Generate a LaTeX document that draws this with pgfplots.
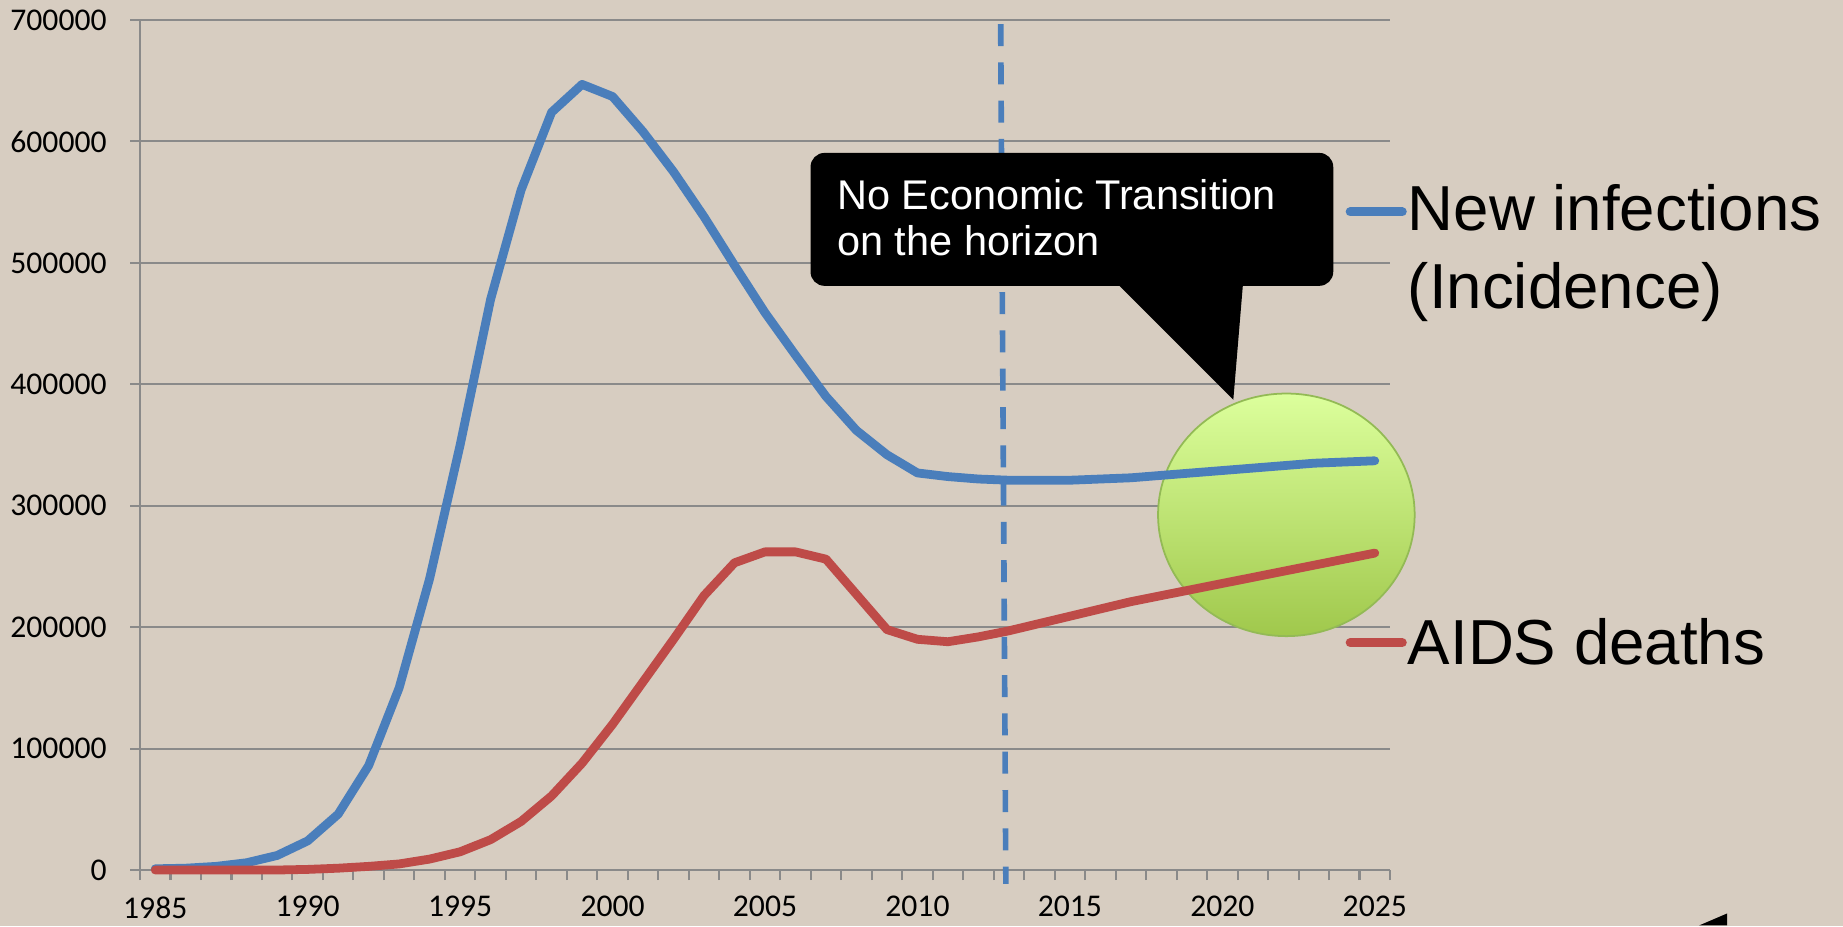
\documentclass[border=0pt]{standalone}
\usepackage{fontspec}
\setmainfont{Liberation Sans}
\newfontfamily\carlito{Carlito}
\usepackage{pgfplots}
\pgfplotsset{compat=1.18}
\definecolor{bgtan}{HTML}{D7CDC1}
\definecolor{gridgray}{HTML}{8A8A8A}
\definecolor{incblue}{HTML}{4A7EBB}
\definecolor{deathred}{HTML}{BE4B48}
\definecolor{ballTop}{HTML}{DCFF9C}
\definecolor{ballBot}{HTML}{A0C84C}
\definecolor{ballEdge}{HTML}{93BA55}

% new infections (incidence), one value per year 1985-2025
\pgfplotstableread{
year inc
1985 1000
1986 1500
1987 3000
1988 6000
1989 12000
1990 24000
1991 46000
1992 86000
1993 150000
1994 240000
1995 350000
1996 470000
1997 560000
1998 624000
1999 647000
2000 637000
2001 608000
2002 575000
2003 538000
2004 498000
2005 459000
2006 424000
2007 390000
2008 362000
2009 342000
2010 327000
2011 324000
2012 322000
2013 321000
2014 321000
2015 321000
2016 322000
2017 323000
2018 325000
2019 327000
2020 329000
2021 331000
2022 333000
2023 335000
2024 336000
2025 337000
}\incidence

% AIDS deaths
\pgfplotstableread{
year deaths
1985 0
1986 0
1987 0
1988 0
1989 0
1990 500
1991 1500
1992 3000
1993 5000
1994 9000
1995 15000
1996 25000
1997 40000
1998 61000
1999 88000
2000 120000
2001 155000
2002 190000
2003 226000
2004 253000
2005 262000
2006 262000
2007 256000
2008 227000
2009 198000
2010 190000
2011 188000
2012 192000
2013 197000
2014 203000
2015 209000
2016 215000
2017 221000
2018 226000
2019 231000
2020 236000
2021 241000
2022 246000
2023 251000
2024 256000
2025 261000
}\deaths

\begin{document}
\begin{tikzpicture}
\useasboundingbox (0,0) rectangle (18.43,9.26);
\fill[bgtan] (0,0) rectangle (18.43,9.26);

\begin{axis}[
  at={(1.40cm,0.56cm)}, anchor=south west,
  scale only axis, width=12.50cm, height=8.50cm,
  xmin=1984.5, xmax=2025.5, ymin=0, ymax=700000,
  clip=false,
  axis x line*=bottom, axis y line*=left,
  axis line style={draw=gridgray, line width=0.6pt},
  xtick={1985,1990,...,2025},
  minor xtick={1984.5,1985.5,...,2025.5},
  ytick={0,100000,...,700000},
  ymajorgrids,
  major grid style={draw=gridgray, line width=0.6pt},
  tick align=outside,
  major tick length=0.1cm, minor tick length=0.1cm,
  tick style={draw=gridgray, line width=0.6pt},
  major x tick style={draw=none},
  scaled y ticks=false,
  ticklabel style={font=\carlito\fontsize{9}{10}\selectfont},
  y tick label style={xshift=-0.11cm},
  x tick label style={yshift=-0.04cm},
  /pgf/number format/fixed,
  /pgf/number format/1000 sep={},
  /pgf/number format/assume math mode=true,
]
% highlight ball behind the curves
\fill[top color=ballTop, bottom color=ballBot, draw=ballEdge, line width=0.5pt]
  (axis cs:2022.1,292500) ellipse [x radius=1.283cm, y radius=1.213cm];

\addplot[incblue, line width=2.5pt, line cap=round, line join=round] table[x=year, y=inc] {\incidence};
\addplot[deathred, line width=2.5pt, line cap=round, line join=round] table[x=year, y=deaths] {\deaths};

% "today" marker
\draw[incblue, line width=1.6pt, dash pattern=on 0.22cm off 0.163cm]
  (axis cs:2012.73,696700) -- (axis cs:2012.90,-11500);
\end{axis}

% annotations in pixel units of the reference, origin top left
\begin{scope}[shift={(0,9.26)}, x=0.01cm, y=-0.01cm]
  \fill[black, rounded corners=0.14cm] (811,153) rectangle (1334,286);
  \fill[black] (1114,280) -- (1234,400) -- (1244,280) -- cycle;
  \node[anchor=base west, inner sep=0, text=white, font=\fontsize{11.8}{13}\selectfont]
    at (837,210) {No Economic Transition};
  \node[anchor=base west, inner sep=0, text=white, font=\fontsize{11.8}{13}\selectfont]
    at (837,256) {on the horizon};

  \draw[incblue, line width=2.6pt, line cap=round] (1351,212) -- (1403,212);
  \node[anchor=base west, inner sep=0, font=\fontsize{18.1}{21}\selectfont] at (1408,231) {New infections};
  \node[anchor=base west, inner sep=0, font=\fontsize{18.1}{21}\selectfont] at (1408,309) {(Incidence)};

  \draw[deathred, line width=2.6pt, line cap=round] (1351,643) -- (1403,643);
  \node[anchor=base west, inner sep=0, font=\fontsize{18.1}{21}\selectfont] at (1408,665) {AIDS deaths};

  \fill[black] (1700,926) -- (1728,914) -- (1728,926) -- cycle;
\end{scope}
\end{tikzpicture}
\end{document}
